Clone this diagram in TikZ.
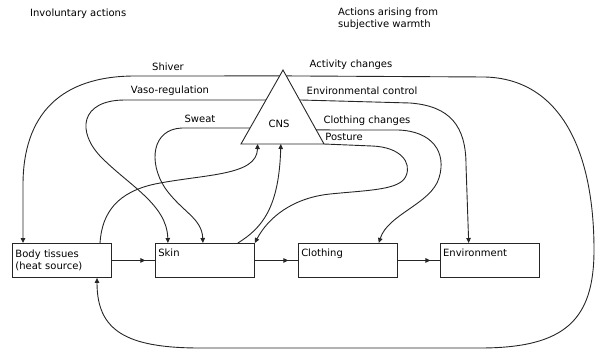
\documentclass[tikz,border=0pt]{standalone}
\usepackage{fontspec}
\setmainfont{DejaVu Sans}
\usetikzlibrary{arrows.meta, positioning, calc, decorations.markings}

\begin{document}
\begin{tikzpicture}[
    x=1pt, y=-1pt,
    every node/.style={font=\fontsize{10}{12}\selectfont},
    line/.style={line width=0.9pt, draw=black!85},
    arrow/.style={line, -{Triangle[length=5pt,width=4.5pt]}},
    flow/.style={
        line, postaction={decorate},
        decoration={markings, mark=at position 0.78 with {\arrow{Triangle[length=5pt,width=4.5pt]}}}
    },
    block/.style={
        rectangle, draw=black!85, line width=0.9pt,
        text width=93pt, align=left,
        minimum height=34pt, inner sep=3pt
    },
    tag/.style={inner sep=1pt}
]
\useasboundingbox (0,0) rectangle (596,350);

% --- headings ---
\node[tag, anchor=west] (invTxt) at (29,14) {Involuntary actions};
\node[tag, anchor=north west, align=left] (subjTxt) at (337,7) {Actions arising from\\subjective warmth};

% --- heat flow boxes ---
\node[block, anchor=north west] (body) at (12,243) {Body tissues\\(heat source)};
\node[block, right=43pt of body]     (skin)        {Skin\\\strut};
\node[block, right=43pt of skin]     (clothing)    {Clothing\\\strut};
\node[block, right=42pt of clothing] (environment) {Environment\\\strut};

\draw[flow] (body) -- (skin);
\draw[flow] (skin) -- (clothing);
\draw[flow] (clothing) -- (environment);

% --- CNS triangle ---
\coordinate (cnsTop) at (283,70);
\coordinate (cnsL) at (241,144);
\coordinate (cnsR) at (324,144);
\draw[line] (cnsTop) -- (cnsL) -- (cnsR) -- cycle;
\node[tag] (cns) at (279,124) {CNS};

\coordinate (shiverOut)   at ($(cnsTop)!0.08!(cnsL)$);
\coordinate (vasoOut)     at ($(cnsTop)!0.405!(cnsL)$);
\coordinate (sweatOut)    at ($(cnsTop)!0.784!(cnsL)$);
\coordinate (activityOut) at ($(cnsTop)!0.08!(cnsR)$);
\coordinate (envOut)      at ($(cnsTop)!0.405!(cnsR)$);
\coordinate (clothOut)    at ($(cnsTop)!0.81!(cnsR)$);
\coordinate (bodyIn)      at ($(cnsL)!0.2!(cnsR)$);
\coordinate (skinIn)      at ($(cnsL)!0.48!(cnsR)$);

% --- involuntary actions ---
\node[tag] (shiverTxt) at (168,67) {Shiver};
\node[tag] (vasoTxt) at (170,91) {Vaso-regulation};
\node[tag] (sweatTxt) at (200,119) {Sweat};

\draw[arrow] (shiverOut) -- (135,76) .. controls (60,76) and (23,115) .. (23,185)
    -- ([xshift=11pt]body.north west);
\draw[arrow] (vasoOut) -- (125,100) .. controls (80,100) and (76,132) .. (102,158)
    .. controls (130,186) and (167,205) .. ([xshift=13pt]skin.north west);
\draw[arrow] (sweatOut) -- (182,128) .. controls (152,129) and (148,162) .. (165,188)
    .. controls (182,212) and (202,218) .. ([xshift=48pt]skin.north west);

% --- signals to CNS ---
\draw[arrow] ([xshift=88pt]body.north west) .. controls (102,212) and (118,192) .. (155,184)
    .. controls (205,174) and (257,176) .. (bodyIn);
\draw[arrow] ([xshift=83pt]skin.north west) .. controls (262,228) and (279,208) .. (skinIn);

% --- actions from subjective warmth ---
\node[tag] (activityTxt) at (351,65) {Activity changes};
\node[tag] (envTxt) at (362,91) {Environmental control};
\node[tag] (clothTxt) at (367,121) {Clothing changes};
\node[tag] (postureTxt) at (344,137) {Posture};

\draw[arrow] (activityOut) -- (485,77) .. controls (560,79) and (594,150) .. (594,250)
    .. controls (594,320) and (565,348) .. (480,348) -- (200,348)
    .. controls (125,348) and (97,330) .. ([xshift=85pt]body.south west);
\draw[arrow] (envOut) -- (410,103) .. controls (450,106) and (466,126) .. (466,165)
    -- ([xshift=29pt]environment.north west);
\draw[arrow] (clothOut) -- (398,130) .. controls (432,131) and (447,152) .. (439,178)
    .. controls (431,204) and (388,214) .. ([xshift=81pt]clothing.north west);
\draw[arrow] (cnsR) -- (372,146) .. controls (400,147) and (412,162) .. (406,176)
    .. controls (400,190) and (370,190) .. (330,194)
    .. controls (292,198) and (268,218) .. (skin.north east);

\end{tikzpicture}
\end{document}
